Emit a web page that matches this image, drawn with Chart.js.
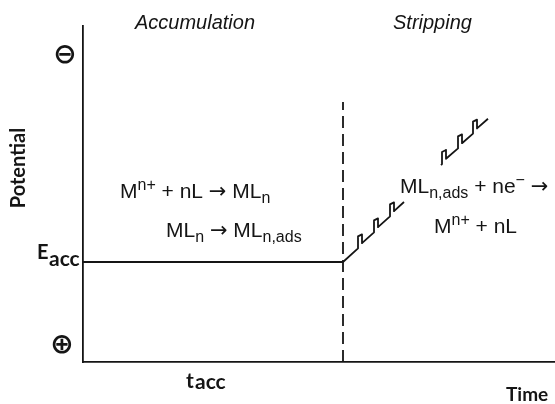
<!DOCTYPE html>
<html>
<head>
<meta charset="utf-8">
<script src="https://cdn.jsdelivr.net/npm/chart.js@4.4.1/dist/chart.umd.min.js"></script>
<style>
  html, body { margin: 0; padding: 0; background: #fff; }
  #wrap { width: 555px; height: 404px; }
</style>
</head>
<body>
<div id="wrap"><canvas id="grafico" width="555" height="404"></canvas></div>
<script>
const accTime = [0, 65];
const accPotential = [25, 25];

const dividerTime = [65, 65];
const dividerPotential = [0, 65];

// rampa com pulsos, primeiro troço
const ramp1Time = [65, 68.75, 68.75, 69.75, 69.75, 72.75, 72.75, 73.75, 73.75, 76.75, 76.75, 77.75, 77.75, 80.25];
const ramp1Potential = [25, 28.4, 31.4, 31.9, 29.7, 32.4, 35.4, 35.9, 33.7, 36.4, 39.4, 39.9, 37.7, 40];

// rampa com pulsos, segundo troço
const ramp2Time = [89.5, 89.75, 89.75, 90.75, 90.75, 93.75, 93.75, 94.75, 94.75, 97.5, 97.5, 98.5, 98.5, 101.25];
const ramp2Potential = [49.25, 49.5, 52.5, 53, 50.8, 53.4, 56.4, 56.9, 54.7, 57.1, 60.1, 60.6, 58.4, 60.8];

const timeMax = 118;
const potentialMax = 84;

const INK = '#151515';

function toPoints(xs, ys) {
    return xs.map((x, i) => ({ x: x, y: ys[i] }));
}

function lineSet(xs, ys, dash) {
    return {
        data: toPoints(xs, ys),
        showLine: true,
        borderColor: INK,
        borderWidth: 1.8,
        borderDash: dash || [],
        pointRadius: 0,
        tension: 0,
        borderJoinStyle: 'round',
        borderCapStyle: 'butt'
    };
}

// texto com índices e expoentes
function drawRich(ctx, parts, x, y, size) {
    let cx = x;
    parts.forEach(p => {
        const small = p[1] === 'sup' || p[1] === 'sub';
        const s = small ? Math.round(size * 0.75) : size;
        const dy = p[1] === 'sup' ? -8 : (p[1] === 'sub' ? 5 : 0);
        const fam = p[1] === 'arrow' ? '"DejaVu Sans", sans-serif' : '"Liberation Sans", Arial, sans-serif';
        ctx.font = `${s}px ${fam}`;
        ctx.fillText(p[0], cx, y + dy);
        cx += ctx.measureText(p[0]).width;
    });
}

const labelsPlugin = {
    id: 'rotulos',
    afterDraw(chart) {
        const ctx = chart.ctx;
        const yS = chart.scales.y;
        ctx.save();
        ctx.fillStyle = INK;
        ctx.textBaseline = 'alphabetic';
        ctx.textAlign = 'left';

        // títulos das fases
        ctx.font = 'italic 20px "Liberation Sans", Arial, sans-serif';
        ctx.fillText('Accumulation', 135, 29);
        ctx.fillText('Stripping', 393, 29);

        // eixo y
        ctx.save();
        ctx.translate(25, 168);
        ctx.rotate(-Math.PI / 2);
        ctx.textAlign = 'center';
        ctx.font = 'bold 20px Lato, "DejaVu Sans", sans-serif';
        ctx.fillText('Potential', 0, 0);
        ctx.restore();

        // E acc
        const yAcc = yS.getPixelForValue(accPotential[0]);
        ctx.font = 'bold 20px Lato, "DejaVu Sans", sans-serif';
        ctx.fillText('E', 37, yAcc - 3);
        ctx.font = 'bold 21px Lato, "DejaVu Sans", sans-serif';
        ctx.fillText('acc', 49, yAcc + 4);

        // t acc
        ctx.font = 'bold 21px Lato, "DejaVu Sans", sans-serif';
        ctx.fillText('t', 186, 388);
        ctx.fillText('acc', 195, 389);

        // Time
        ctx.font = 'bold 19px Lato, "DejaVu Sans", sans-serif';
        ctx.fillText('Time', 506, 401);

        // sinais
        ctx.textAlign = 'center';
        ctx.textBaseline = 'middle';
        ctx.font = 'bold 28px "DejaVu Sans", sans-serif';
        ctx.fillText('\u2296', 65, 56);
        ctx.fillText('\u2295', 62, 346);

        // reacções
        ctx.textAlign = 'left';
        ctx.textBaseline = 'alphabetic';
        if ('wordSpacing' in ctx) ctx.wordSpacing = '3px';
        drawRich(ctx, [['M'], ['n+', 'sup'], [' + nL '], ['\u2192', 'arrow'], [' ML'], ['n', 'sub']], 120, 198, 21);
        drawRich(ctx, [['ML'], ['n', 'sub'], [' '], ['\u2192', 'arrow'], [' ML'], ['n,ads', 'sub']], 166, 237, 21);
        drawRich(ctx, [['ML'], ['n,ads', 'sub'], [' + ne'], ['\u2212', 'sup'], [' '], ['\u2192', 'arrow']], 400, 193, 21);
        drawRich(ctx, [['M'], ['n+', 'sup'], [' + nL']], 434, 233, 21);
        ctx.restore();
    }
};

const axisOpts = (max) => ({
    type: 'linear',
    min: 0,
    max: max,
    ticks: { display: false },
    grid: { display: true, drawOnChartArea: false, drawTicks: false, tickLength: 0 },
    border: { display: true, color: INK, width: 1.8 },
    title: { display: false }
});

new Chart(document.getElementById('grafico').getContext('2d'), {
    type: 'scatter',
    data: {
        datasets: [
            lineSet(accTime, accPotential),
            lineSet(ramp1Time, ramp1Potential),
            lineSet(ramp2Time, ramp2Potential),
            lineSet(dividerTime, dividerPotential, [12, 6])
        ]
    },
    options: {
        responsive: false,
        animation: false,
        layout: { padding: { left: 83, top: 26, right: 0, bottom: 42 } },
        scales: {
            x: axisOpts(timeMax),
            y: axisOpts(potentialMax)
        },
        plugins: {
            legend: { display: false },
            tooltip: { enabled: false }
        }
    },
    plugins: [labelsPlugin]
});
</script>
</body>
</html>
